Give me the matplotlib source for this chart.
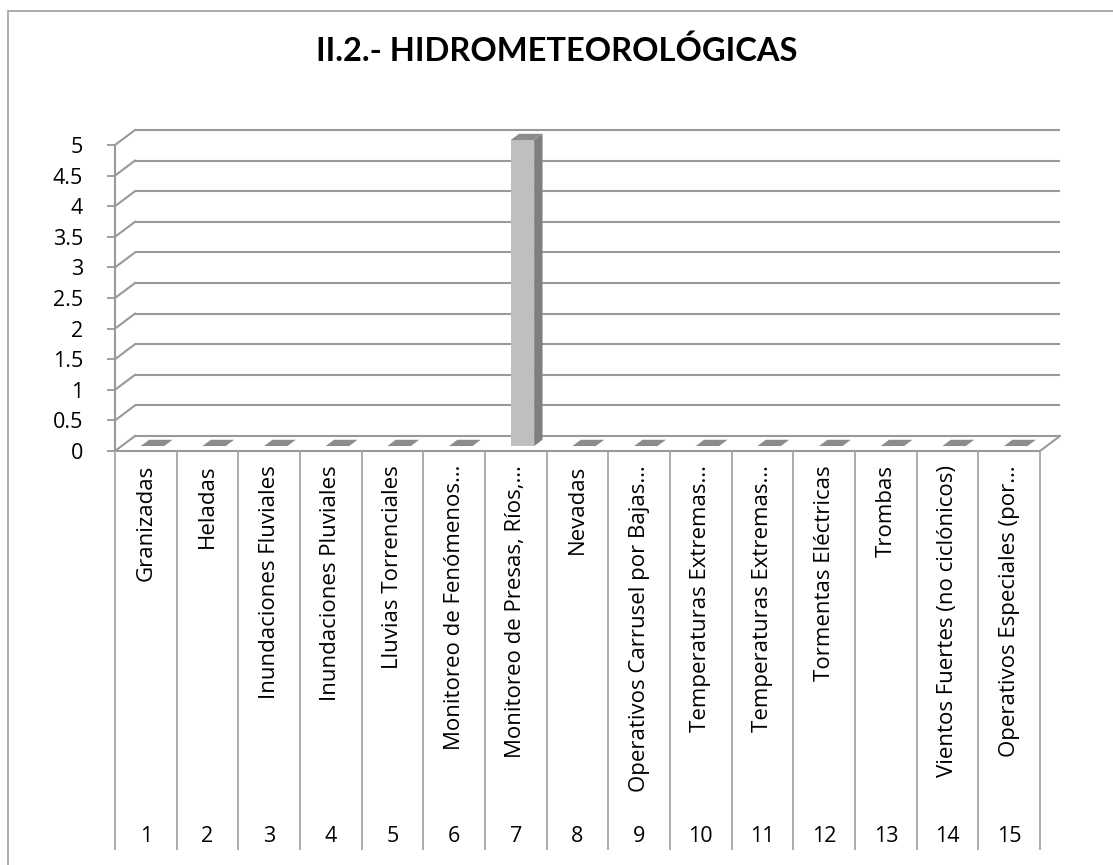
import matplotlib
matplotlib.use("Agg")
import matplotlib.pyplot as plt
from matplotlib.patches import Polygon, Rectangle
import matplotlib.transforms as mtransforms
import numpy as np

title = "II.2.- HIDROMETEOROLÓGICAS"
categories = [
    "Granizadas",
    "Heladas",
    "Inundaciones Fluviales",
    "Inundaciones Pluviales",
    "Lluvias Torrenciales",
    "Monitoreo de Fenómenos…",
    "Monitoreo de Presas, Ríos,…",
    "Nevadas",
    "Operativos Carrusel por Bajas…",
    "Temperaturas Extremas…",
    "Temperaturas Extremas…",
    "Tormentas Eléctricas",
    "Trombas",
    "Vientos Fuertes (no ciclónicos)",
    "Operativos Especiales (por…",
]
numbers = [str(i) for i in range(1, 16)]
values = [0, 0, 0, 0, 0, 0, 5, 0, 0, 0, 0, 0, 0, 0, 0]
yticks = [0, 0.5, 1, 1.5, 2, 2.5, 3, 3.5, 4, 4.5, 5]
ytick_labels = ["0", "0.5", "1", "1.5", "2", "2.5", "3", "3.5", "4", "4.5", "5"]

W, H = 1113, 865
DPI = 100
fig = plt.figure(figsize=(W / DPI, H / DPI), dpi=DPI)
plt.rcParams['font.family'] = ['Open Sans', 'DejaVu Sans']
FS_LAB = 16
FS_NUM = 15.5

# outer chart border
fig.add_artist(Rectangle((7.5 / W, -0.1), 1.2, (H - 10.5) / H + 0.1,
                         transform=fig.transFigure, fill=False,
                         edgecolor='#A6A6A6', linewidth=1.3))

left_px, right_px = 115, 1040
zero_px, top_px = 451, 145
ax = fig.add_axes([left_px / W, (H - zero_px) / H,
                   (right_px - left_px) / W, (zero_px - top_px) / H])
n = len(categories)
ax.set_xlim(0, n)
ax.set_ylim(0, 5)
for s in ax.spines.values():
    s.set_visible(False)
ax.set_xticks([])
ax.set_yticks(yticks)
ax.set_yticklabels(ytick_labels, fontsize=FS_NUM)
ax.tick_params(axis='y', length=6, width=1.3, color='#999999', pad=17)
ax.patch.set_visible(False)

# depth vector (pixels) converted to data units
DX, DY = 20, 15
fig.canvas.draw()
inv = ax.transData.inverted()
p0 = inv.transform((0, 0))
p1 = inv.transform((DX, DY))
ddx, ddy = p1 - p0

def P(x, y, d):
    return (x + ddx * d, y + ddy * d)

grid_c = '#999999'
lw = 1.5
# back wall gridlines and left wall diagonals
for v in yticks:
    a, b = P(0, v, 1), P(n, v, 1)
    ax.plot([a[0], b[0]], [a[1], b[1]], color=grid_c, lw=lw, clip_on=False,
            solid_capstyle='butt', zorder=1)
    c = P(0, v, 0)
    ax.plot([c[0], a[0]], [c[1], a[1]], color=grid_c, lw=lw, clip_on=False, zorder=1)
# floor right edge
a, b = P(n, 0, 0), P(n, 0, 1)
ax.plot([a[0], b[0]], [a[1], b[1]], color=grid_c, lw=lw, clip_on=False, zorder=1)
# front axis lines
ax.plot([0, n], [0, 0], color=grid_c, lw=lw, clip_on=False, zorder=2)
ax.plot([0, 0], [0, 5], color=grid_c, lw=lw, clip_on=False, zorder=2)

# bars
bw = 0.38
f1, f2 = 0.33, 0.75
front_c, side_c, top_c = '#BFBFBF', '#7F7F7F', '#8C8C8C'
for i, v in enumerate(values):
    x0 = i + 0.5 - bw / 2
    x1 = i + 0.5 + bw / 2
    if v > 0:
        side = [P(x1, 0, f1), P(x1, 0, f2), P(x1, v, f2), P(x1, v, f1)]
        ax.add_patch(Polygon(side, closed=True, facecolor=side_c,
                             edgecolor='none', clip_on=False, zorder=3))
        ax.add_patch(Polygon([P(x0, 0, f1), P(x1, 0, f1), P(x1, v, f1), P(x0, v, f1)],
                             closed=True, facecolor=front_c, edgecolor='none',
                             clip_on=False, zorder=4))
    top = [P(x0, v, f1), P(x1, v, f1), P(x1, v, f2), P(x0, v, f2)]
    ax.add_patch(Polygon(top, closed=True, facecolor=top_c, edgecolor='none',
                         clip_on=False, zorder=5))

# category separators and labels
bt = mtransforms.blended_transform_factory(ax.transData, ax.transAxes)
span = zero_px - top_px
sep_bottom = -(850 - zero_px) / span
ax.vlines(np.arange(0, n + 1), sep_bottom, 0, transform=bt, colors='#A6A6A6',
          lw=1.3, clip_on=False)
lab_top = -(465 - zero_px) / span
num_y = -(836 - zero_px) / span
for i, (c, num) in enumerate(zip(categories, numbers)):
    ax.text(i + 0.5, lab_top, c, transform=bt, rotation=90, ha='center', va='top',
            fontsize=FS_LAB)
    ax.text(i + 0.5, num_y, num, transform=bt, ha='center', va='center', fontsize=FS_NUM)

fig.text(557 / W, 1 - 51 / H, title, ha='center', va='center',
         fontsize=23.5, fontweight='bold', family=['Lato', 'DejaVu Sans'])

fig.savefig('out.png', dpi=DPI)
